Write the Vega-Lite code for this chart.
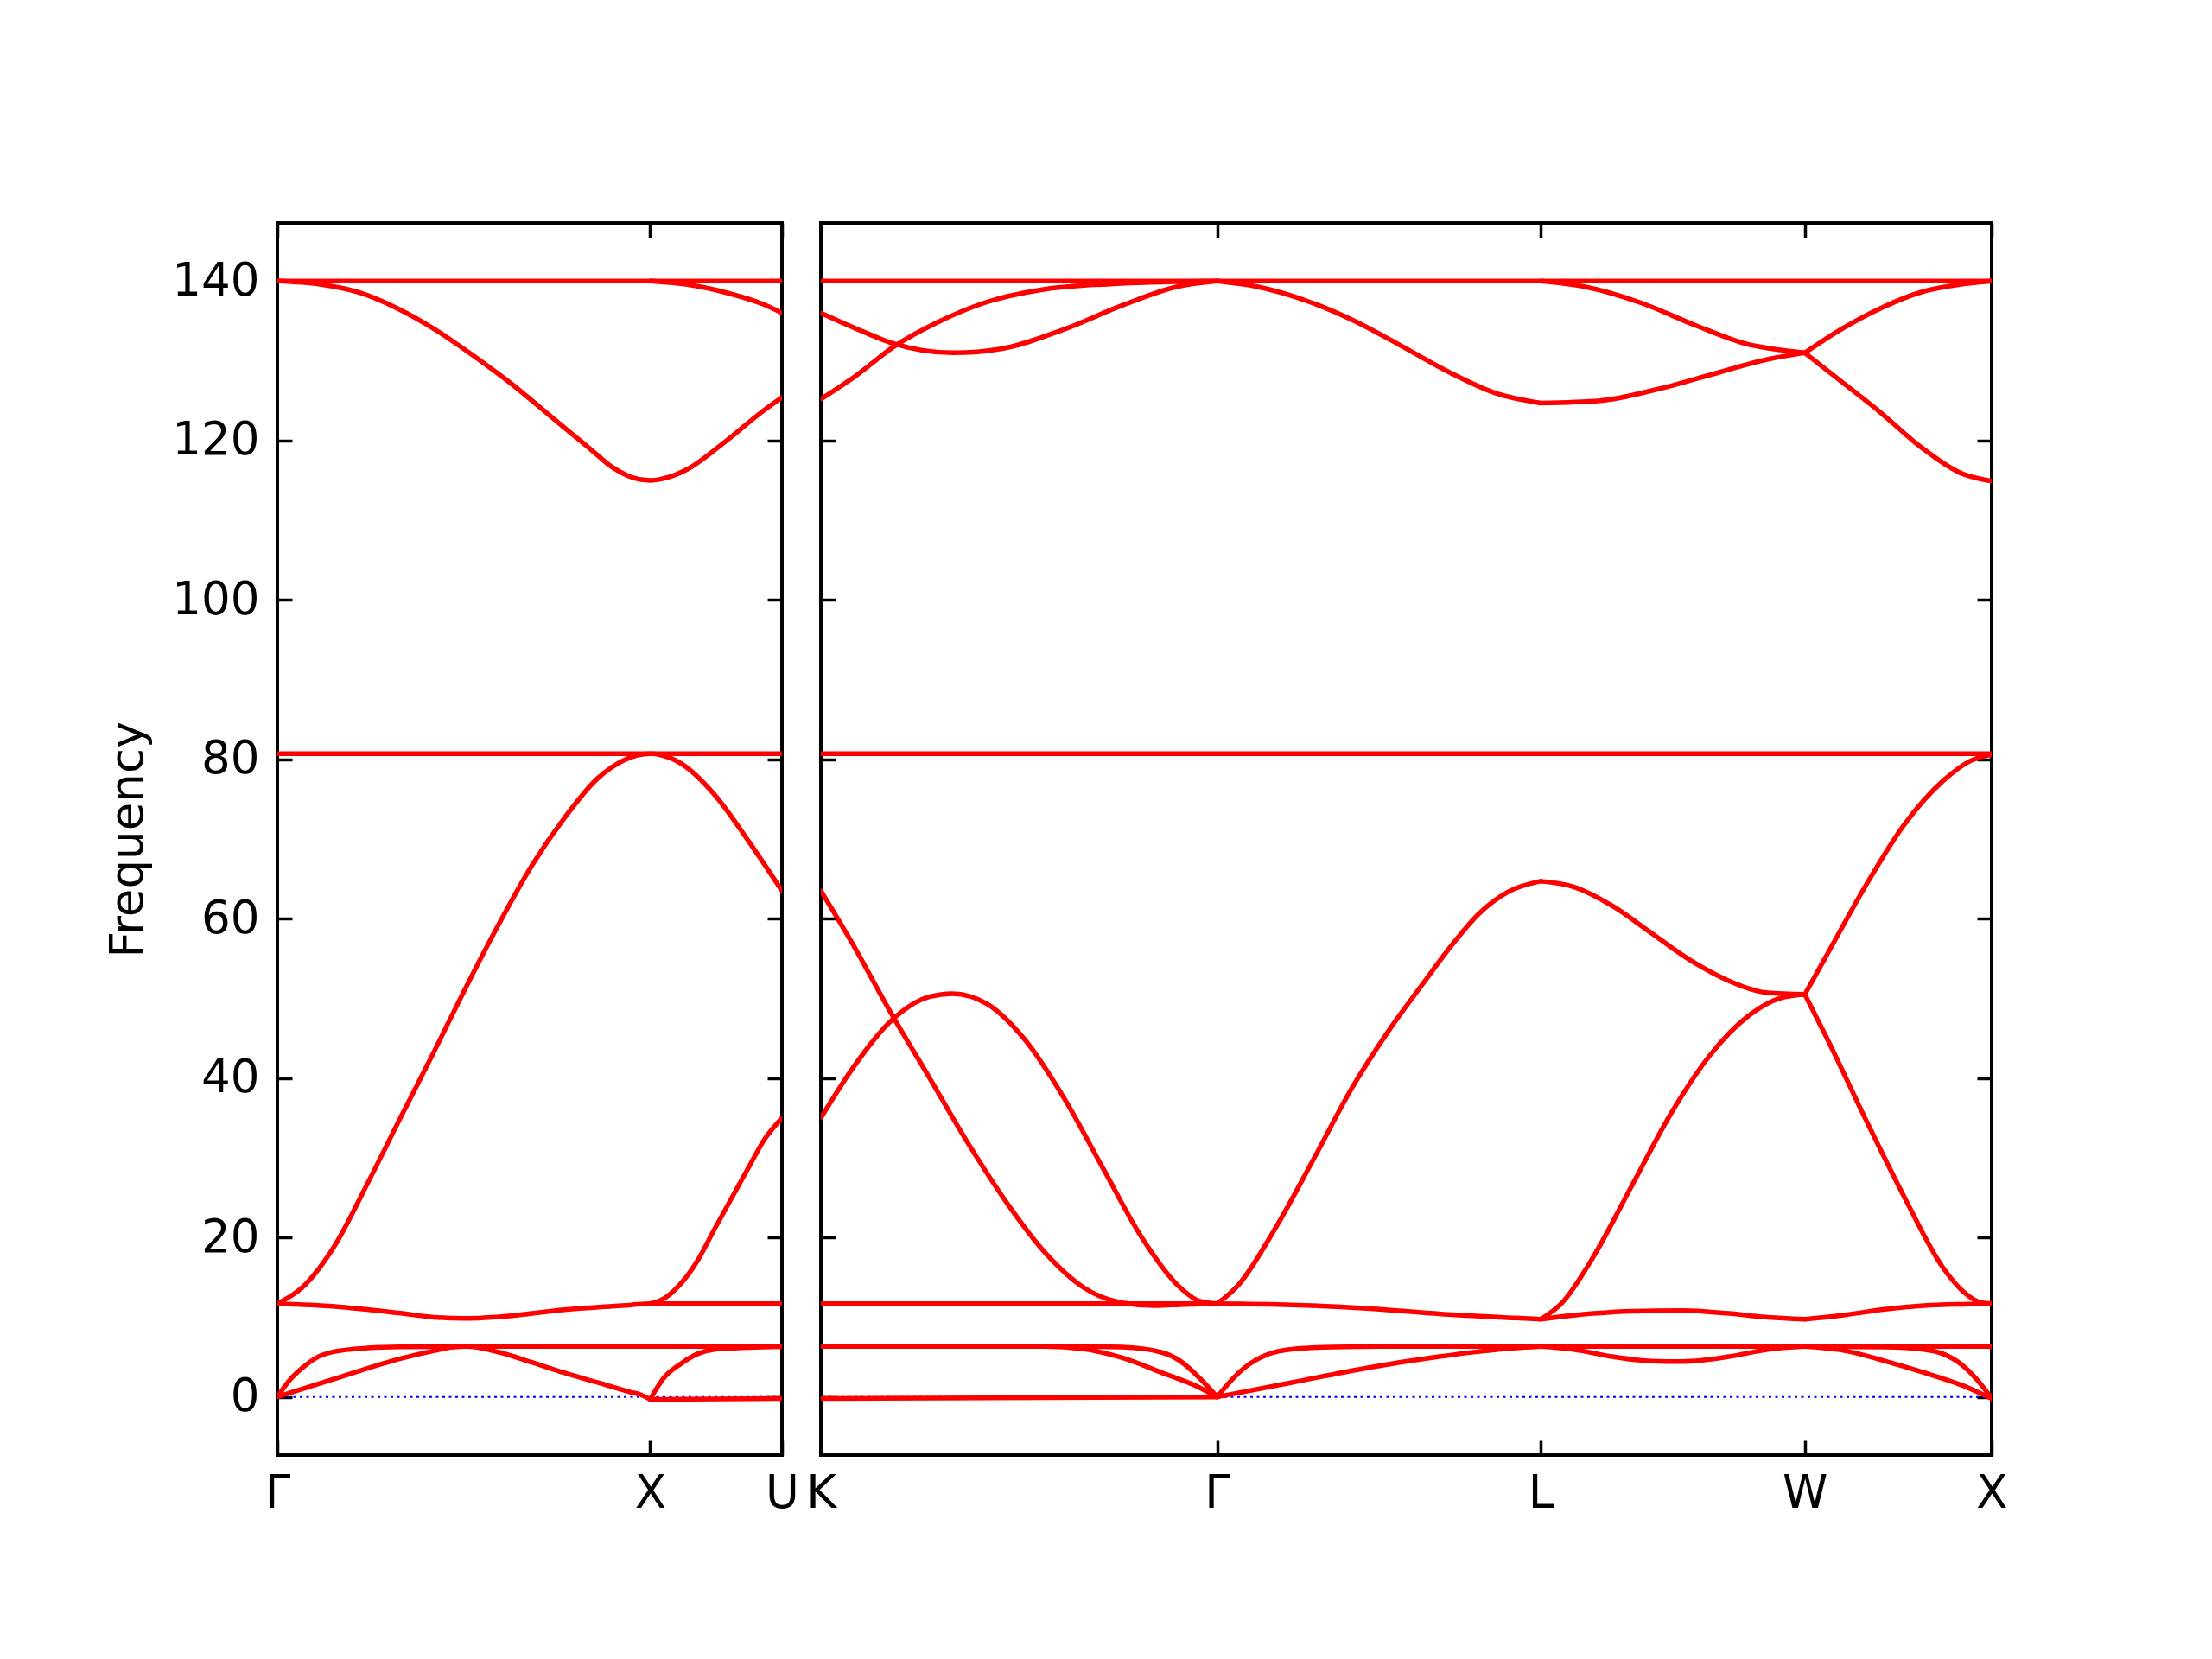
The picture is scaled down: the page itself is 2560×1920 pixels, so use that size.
{
  "$schema": "https://vega.github.io/schema/vega-lite/v6.json",
  "background": "white",
  "padding": {"left": 120, "top": 254, "right": 10, "bottom": 10},
  "spacing": 3,
  "config": {
    "view": {"stroke": "black", "strokeWidth": 4},
    "font": "DejaVu Sans",
    "axis": {
      "labelFont": "DejaVu Sans", "titleFont": "DejaVu Sans",
      "labelFontSize": 53, "titleFontSize": 53,
      "labelColor": "black", "titleColor": "black",
      "tickColor": "black", "tickWidth": 3.5, "tickSize": -17,
      "domain": false, "grid": false, "titleFontWeight": "normal",
      "labelFlush": false, "labelOverlap": false
    }
  },
  "datasets": {
    "left": [
      {"s":"L1","d":0,"f":140},{"s":"L1","d":1.3536,"f":140},
      {"s":"L2","d":0,"f":140},{"s":"L2","d":0.114,"f":139.6},{"s":"L2","d":0.217,"f":138.6},{"s":"L2","d":0.321,"f":136.6},{"s":"L2","d":0.424,"f":133.9},{"s":"L2","d":0.527,"f":130.6},{"s":"L2","d":0.631,"f":127.0},{"s":"L2","d":0.734,"f":123.0},{"s":"L2","d":0.838,"f":119.0},{"s":"L2","d":0.9,"f":116.6},{"s":"L2","d":0.95,"f":115.4},{"s":"L2","d":1,"f":115.0},{"s":"L2","d":1.05,"f":115.4},{"s":"L2","d":1.1,"f":116.4},{"s":"L2","d":1.2,"f":119.8},{"s":"L2","d":1.3,"f":123.6},{"s":"L2","d":1.3536,"f":125.4},
      {"s":"L3","d":1,"f":140},{"s":"L3","d":1.096,"f":139.6},{"s":"L3","d":1.2,"f":138.6},{"s":"L3","d":1.303,"f":137.1},{"s":"L3","d":1.3536,"f":136.0},
      {"s":"L4","d":0,"f":80.7},{"s":"L4","d":1.3536,"f":80.7},
      {"s":"L5","d":0,"f":11.7},{"s":"L5","d":0.066,"f":13.7},{"s":"L5","d":0.154,"f":19.0},{"s":"L5","d":0.242,"f":26.8},{"s":"L5","d":0.33,"f":35.0},{"s":"L5","d":0.419,"f":43.2},{"s":"L5","d":0.507,"f":51.5},{"s":"L5","d":0.595,"f":59.4},{"s":"L5","d":0.683,"f":66.7},{"s":"L5","d":0.771,"f":72.7},{"s":"L5","d":0.859,"f":77.6},{"s":"L5","d":0.93,"f":79.9},{"s":"L5","d":1,"f":80.7},{"s":"L5","d":1.082,"f":79.5},{"s":"L5","d":1.172,"f":75.6},{"s":"L5","d":1.263,"f":69.8},{"s":"L5","d":1.3536,"f":63.5},
      {"s":"L6","d":0,"f":11.7},{"s":"L6","d":0.154,"f":11.35},{"s":"L6","d":0.33,"f":10.5},{"s":"L6","d":0.42,"f":10.0},{"s":"L6","d":0.5,"f":9.85},{"s":"L6","d":0.595,"f":10.05},{"s":"L6","d":0.77,"f":10.95},{"s":"L6","d":0.95,"f":11.55},{"s":"L6","d":1,"f":11.7},{"s":"L6","d":1.3536,"f":11.7},
      {"s":"L7","d":1,"f":11.7},{"s":"L7","d":1.036,"f":12.3},{"s":"L7","d":1.082,"f":14.2},{"s":"L7","d":1.127,"f":17.1},{"s":"L7","d":1.172,"f":21.0},{"s":"L7","d":1.218,"f":24.9},{"s":"L7","d":1.263,"f":28.7},{"s":"L7","d":1.308,"f":32.4},{"s":"L7","d":1.3536,"f":35.0},
      {"s":"L8","d":0,"f":0},{"s":"L8","d":0.031,"f":2.0},{"s":"L8","d":0.066,"f":3.6},{"s":"L8","d":0.11,"f":5.05},{"s":"L8","d":0.154,"f":5.7},{"s":"L8","d":0.242,"f":6.14},{"s":"L8","d":0.33,"f":6.28},{"s":"L8","d":0.5,"f":6.32},{"s":"L8","d":1.3536,"f":6.32},
      {"s":"L9","d":0,"f":0},{"s":"L9","d":0.154,"f":2.27},{"s":"L9","d":0.33,"f":4.8},{"s":"L9","d":0.419,"f":5.78},{"s":"L9","d":0.471,"f":6.25},{"s":"L9","d":0.507,"f":6.32},{"s":"L9","d":0.595,"f":5.6},{"s":"L9","d":0.683,"f":4.33},{"s":"L9","d":0.771,"f":3.0},{"s":"L9","d":0.859,"f":1.81},{"s":"L9","d":0.947,"f":0.61},{"s":"L9","d":0.974,"f":0.29},{"s":"L9","d":1,"f":-0.3},
      {"s":"L10","d":1,"f":-0.3},{"s":"L10","d":1.3536,"f":-0.2},
      {"s":"L11","d":1,"f":-0.3},{"s":"L11","d":1.036,"f":2.35},{"s":"L11","d":1.082,"f":4.15},{"s":"L11","d":1.127,"f":5.4},{"s":"L11","d":1.172,"f":5.96},{"s":"L11","d":1.263,"f":6.2},{"s":"L11","d":1.3536,"f":6.3}
    ],
    "right": [
      {"s":"R1","d":0,"f":140},{"s":"R1","d":3.1338,"f":140},
      {"s":"R2","d":0,"f":80.7},{"s":"R2","d":3.1338,"f":80.7},
      {"s":"KGa","d":0,"f":136.0},{"s":"KGa","d":0.096,"f":134.0},{"s":"KGa","d":0.193,"f":132.2},{"s":"KGa","d":0.354,"f":131.0},{"s":"KGa","d":0.482,"f":131.5},{"s":"KGa","d":0.654,"f":134.0},{"s":"KGa","d":0.804,"f":136.9},{"s":"KGa","d":0.954,"f":139.3},{"s":"KGa","d":1.0607,"f":140},
      {"s":"KGb","d":0,"f":125.2},{"s":"KGb","d":0.096,"f":128.2},{"s":"KGb","d":0.193,"f":131.7},{"s":"KGb","d":0.311,"f":134.8},{"s":"KGb","d":0.439,"f":137.3},{"s":"KGb","d":0.589,"f":138.9},{"s":"KGb","d":0.804,"f":139.7},{"s":"KGb","d":1.0607,"f":140},
      {"s":"KGd","d":0,"f":63.5},{"s":"KGd","d":0.083,"f":57.0},{"s":"KGd","d":0.186,"f":48.3},{"s":"KGd","d":0.29,"f":40.1},{"s":"KGd","d":0.393,"f":31.9},{"s":"KGd","d":0.497,"f":24.4},{"s":"KGd","d":0.6,"f":18.1},{"s":"KGd","d":0.704,"f":13.7},{"s":"KGd","d":0.807,"f":11.8},{"s":"KGd","d":0.89,"f":11.45},{"s":"KGd","d":0.973,"f":11.6},{"s":"KGd","d":1.0607,"f":11.7},
      {"s":"KGe","d":0,"f":35.0},{"s":"KGe","d":0.083,"f":41.1},{"s":"KGe","d":0.186,"f":47.1},{"s":"KGe","d":0.29,"f":50.2},{"s":"KGe","d":0.352,"f":50.6},{"s":"KGe","d":0.445,"f":49.3},{"s":"KGe","d":0.548,"f":44.7},{"s":"KGe","d":0.652,"f":37.4},{"s":"KGe","d":0.755,"f":28.7},{"s":"KGe","d":0.859,"f":20.0},{"s":"KGe","d":0.962,"f":13.7},{"s":"KGe","d":1.014,"f":12.0},{"s":"KGe","d":1.0607,"f":11.7},
      {"s":"KGf","d":0,"f":11.7},{"s":"KGf","d":1.0607,"f":11.7},
      {"s":"KGg","d":0,"f":6.32},{"s":"KGg","d":0.7,"f":6.32},{"s":"KGg","d":0.807,"f":6.25},{"s":"KGg","d":0.911,"f":5.6},{"s":"KGg","d":0.962,"f":4.5},{"s":"KGg","d":1.014,"f":2.35},{"s":"KGg","d":1.0607,"f":0},
      {"s":"KGh","d":0,"f":6.32},{"s":"KGh","d":0.6,"f":6.32},{"s":"KGh","d":0.704,"f":6.0},{"s":"KGh","d":0.807,"f":4.9},{"s":"KGh","d":0.911,"f":3.07},{"s":"KGh","d":1.014,"f":1.16},{"s":"KGh","d":1.0607,"f":0},
      {"s":"KGi","d":0,"f":-0.2},{"s":"KGi","d":1.0607,"f":0},
      {"s":"GLa","d":1.0607,"f":140},{"s":"GLa","d":1.1677,"f":139.3},{"s":"GLa","d":1.2957,"f":137.6},{"s":"GLa","d":1.4237,"f":135.1},{"s":"GLa","d":1.5527,"f":131.9},{"s":"GLa","d":1.6807,"f":128.6},{"s":"GLa","d":1.8087,"f":125.9},{"s":"GLa","d":1.9267,"f":124.7},
      {"s":"GLc","d":1.0607,"f":11.7},{"s":"GLc","d":1.1167,"f":14.0},{"s":"GLc","d":1.2207,"f":21.5},{"s":"GLc","d":1.3207,"f":30.0},{"s":"GLc","d":1.4207,"f":38.7},{"s":"GLc","d":1.5207,"f":46.0},{"s":"GLc","d":1.6107,"f":51.8},{"s":"GLc","d":1.6907,"f":56.8},{"s":"GLc","d":1.7607,"f":60.6},{"s":"GLc","d":1.8407,"f":63.4},{"s":"GLc","d":1.9267,"f":64.7},
      {"s":"GLd","d":1.0607,"f":11.7},{"s":"GLd","d":1.2607,"f":11.55},{"s":"GLd","d":1.4607,"f":11.1},{"s":"GLd","d":1.6607,"f":10.4},{"s":"GLd","d":1.8607,"f":9.9},{"s":"GLd","d":1.9267,"f":9.75},
      {"s":"GLe","d":1.0607,"f":0},{"s":"GLe","d":1.0967,"f":1.99},{"s":"GLe","d":1.1377,"f":3.8},{"s":"GLe","d":1.1887,"f":5.2},{"s":"GLe","d":1.2707,"f":6.03},{"s":"GLe","d":1.3737,"f":6.25},{"s":"GLe","d":1.5,"f":6.32},{"s":"GLe","d":1.9267,"f":6.32},
      {"s":"GLf","d":1.0607,"f":0},{"s":"GLf","d":1.2607,"f":1.81},{"s":"GLf","d":1.4607,"f":3.63},{"s":"GLf","d":1.6547,"f":5.05},{"s":"GLf","d":1.7567,"f":5.67},{"s":"GLf","d":1.8597,"f":6.14},{"s":"GLf","d":1.9267,"f":6.32},
      {"s":"LWa","d":1.9267,"f":140},{"s":"LWa","d":2.0437,"f":139.3},{"s":"LWa","d":2.1937,"f":137.3},{"s":"LWa","d":2.3437,"f":134.4},{"s":"LWa","d":2.4717,"f":132.2},{"s":"LWa","d":2.6338,"f":131.0},
      {"s":"LWb","d":1.9267,"f":124.7},{"s":"LWb","d":2.0867,"f":125.0},{"s":"LWb","d":2.2367,"f":126.4},{"s":"LWb","d":2.4077,"f":128.6},{"s":"LWb","d":2.5357,"f":130.2},{"s":"LWb","d":2.6338,"f":131.0},
      {"s":"LWc","d":1.9267,"f":64.7},{"s":"LWc","d":2.0147,"f":64.0},{"s":"LWc","d":2.1187,"f":61.6},{"s":"LWc","d":2.2227,"f":58.2},{"s":"LWc","d":2.3267,"f":54.8},{"s":"LWc","d":2.4307,"f":52.2},{"s":"LWc","d":2.5347,"f":50.7},{"s":"LWc","d":2.6338,"f":50.5},
      {"s":"LWd","d":1.9267,"f":9.75},{"s":"LWd","d":1.9837,"f":11.8},{"s":"LWd","d":2.0667,"f":17.5},{"s":"LWd","d":2.1707,"f":26.5},{"s":"LWd","d":2.2747,"f":35.5},{"s":"LWd","d":2.3787,"f":42.8},{"s":"LWd","d":2.4827,"f":47.8},{"s":"LWd","d":2.5667,"f":50.0},{"s":"LWd","d":2.6338,"f":50.5},
      {"s":"LWe","d":1.9267,"f":9.75},{"s":"LWe","d":2.0667,"f":10.47},{"s":"LWe","d":2.1707,"f":10.76},{"s":"LWe","d":2.3067,"f":10.83},{"s":"LWe","d":2.4307,"f":10.47},{"s":"LWe","d":2.5347,"f":10.0},{"s":"LWe","d":2.6338,"f":9.75},
      {"s":"LWf","d":1.9267,"f":6.32},{"s":"LWf","d":3.1338,"f":6.32},
      {"s":"LWg","d":1.9267,"f":6.32},{"s":"LWg","d":2.0147,"f":5.96},{"s":"LWg","d":2.1187,"f":5.05},{"s":"LWg","d":2.2227,"f":4.5},{"s":"LWg","d":2.3067,"f":4.44},{"s":"LWg","d":2.4307,"f":5.05},{"s":"LWg","d":2.5347,"f":5.96},{"s":"LWg","d":2.6338,"f":6.32},
      {"s":"WXa","d":2.6338,"f":131.0},{"s":"WXa","d":2.7288,"f":133.9},{"s":"WXa","d":2.8368,"f":136.6},{"s":"WXa","d":2.9438,"f":138.6},{"s":"WXa","d":3.0518,"f":139.6},{"s":"WXa","d":3.1338,"f":140},
      {"s":"WXb","d":2.6338,"f":131.0},{"s":"WXb","d":2.7288,"f":127.5},{"s":"WXb","d":2.8368,"f":123.5},{"s":"WXb","d":2.9438,"f":119.2},{"s":"WXb","d":3.0518,"f":115.9},{"s":"WXb","d":3.1338,"f":114.9},
      {"s":"WXc","d":2.6338,"f":50.5},{"s":"WXc","d":2.6908,"f":55.3},{"s":"WXc","d":2.7948,"f":64.0},{"s":"WXc","d":2.8998,"f":71.8},{"s":"WXc","d":3.0038,"f":77.3},{"s":"WXc","d":3.0768,"f":79.8},{"s":"WXc","d":3.1338,"f":80.6},
      {"s":"WXd","d":2.6338,"f":50.5},{"s":"WXd","d":2.6908,"f":45.2},{"s":"WXd","d":2.7948,"f":35.0},{"s":"WXd","d":2.8998,"f":25.1},{"s":"WXd","d":3.0038,"f":16.2},{"s":"WXd","d":3.0558,"f":13.3},{"s":"WXd","d":3.1078,"f":11.8},{"s":"WXd","d":3.1338,"f":11.7},
      {"s":"WXe","d":2.6338,"f":9.75},{"s":"WXe","d":2.7428,"f":10.3},{"s":"WXe","d":2.8478,"f":11.0},{"s":"WXe","d":2.9518,"f":11.45},{"s":"WXe","d":3.0558,"f":11.63},{"s":"WXe","d":3.1338,"f":11.7},
      {"s":"WXg","d":2.6338,"f":6.32},{"s":"WXg","d":2.8478,"f":6.25},{"s":"WXg","d":2.9518,"f":5.96},{"s":"WXg","d":3.0038,"f":5.4},{"s":"WXg","d":3.0558,"f":3.97},{"s":"WXg","d":3.0978,"f":1.99},{"s":"WXg","d":3.1338,"f":-0.2},
      {"s":"WXh","d":2.6338,"f":6.32},{"s":"WXh","d":2.7428,"f":5.78},{"s":"WXh","d":2.8478,"f":4.51},{"s":"WXh","d":2.9518,"f":3.07},{"s":"WXh","d":3.0558,"f":1.44},{"s":"WXh","d":3.1338,"f":-0.2}
    ],
    "zero": [{"f": 0}]
  },
  "hconcat": [
    {
      "width": 584,
      "height": 1426,
      "layer": [
        {
          "data": {"name": "zero"},
          "mark": {"type": "rule", "color": "#0000ff", "strokeWidth": 2, "strokeDash": [3, 4.5]},
          "encoding": {
            "y": {"field": "f", "type": "quantitative", "scale": {"domain": [-7.3, 147.3], "nice": false, "zero": false}, "axis": null}
          }
        },
        {
          "data": {"name": "left"},
          "mark": {"type": "line", "color": "#ff0000", "strokeWidth": 5.5, "strokeCap": "round", "strokeJoin": "round", "interpolate": "monotone", "clip": true},
          "encoding": {
            "x": {"field": "d", "type": "quantitative", "scale": {"domain": [0, 1.3536], "nice": false, "zero": false},
              "axis": {"orient": "bottom", "title": null, "values": [0, 1, 1.3536], "labelPadding": 35,
                "labelExpr": "datum.value < 0.5 ? 'Γ' : (datum.value < 1.2 ? 'X' : 'U')"}},
            "y": {"field": "f", "type": "quantitative", "scale": {"domain": [-7.3, 147.3], "nice": false, "zero": false},
              "axis": {"orient": "left", "title": "Frequency", "values": [0, 20, 40, 60, 80, 100, 120, 140], "format": "d", "labelPadding": 38, "titlePadding": 23}},
            "detail": {"field": "s"}
          }
        },
        {
          "data": {"name": "left"},
          "mark": {"type": "line", "strokeOpacity": 0},
          "encoding": {
            "x": {"field": "d", "type": "quantitative", "scale": {"domain": [0, 1.3536], "nice": false, "zero": false},
              "axis": {"orient": "top", "title": null, "values": [0, 1, 1.3536], "labels": false}},
            "y": {"field": "f", "type": "quantitative", "scale": {"domain": [-7.3, 147.3], "nice": false, "zero": false},
              "axis": {"orient": "right", "title": null, "values": [0, 20, 40, 60, 80, 100, 120, 140], "labels": false}},
            "detail": {"field": "s"}
          }
        }
      ],
      "resolve": {"axis": {"x": "independent", "y": "independent"}}
    },
    {
      "width": 1355,
      "height": 1426,
      "layer": [
        {
          "data": {"name": "zero"},
          "mark": {"type": "rule", "color": "#0000ff", "strokeWidth": 2, "strokeDash": [3, 4.5]},
          "encoding": {
            "y": {"field": "f", "type": "quantitative", "scale": {"domain": [-7.3, 147.3], "nice": false, "zero": false}, "axis": null}
          }
        },
        {
          "data": {"name": "right"},
          "mark": {"type": "line", "color": "#ff0000", "strokeWidth": 5.5, "strokeCap": "round", "strokeJoin": "round", "interpolate": "monotone", "clip": true},
          "encoding": {
            "x": {"field": "d", "type": "quantitative", "scale": {"domain": [0, 3.1338], "nice": false, "zero": false},
              "axis": {"orient": "bottom", "title": null, "values": [0, 1.0607, 1.9267, 2.6338, 3.1338], "labelPadding": 35,
                "labelExpr": "datum.value < 0.5 ? 'K' : (datum.value < 1.5 ? 'Γ' : (datum.value < 2.3 ? 'L' : (datum.value < 2.9 ? 'W' : 'X')))"}},
            "y": {"field": "f", "type": "quantitative", "scale": {"domain": [-7.3, 147.3], "nice": false, "zero": false},
              "axis": {"orient": "left", "title": null, "values": [0, 20, 40, 60, 80, 100, 120, 140], "labels": false}},
            "detail": {"field": "s"}
          }
        },
        {
          "data": {"name": "right"},
          "mark": {"type": "line", "strokeOpacity": 0},
          "encoding": {
            "x": {"field": "d", "type": "quantitative", "scale": {"domain": [0, 3.1338], "nice": false, "zero": false},
              "axis": {"orient": "top", "title": null, "values": [0, 1.0607, 1.9267, 2.6338, 3.1338], "labels": false}},
            "y": {"field": "f", "type": "quantitative", "scale": {"domain": [-7.3, 147.3], "nice": false, "zero": false},
              "axis": {"orient": "right", "title": null, "values": [0, 20, 40, 60, 80, 100, 120, 140], "labels": false}},
            "detail": {"field": "s"}
          }
        }
      ],
      "resolve": {"axis": {"x": "independent", "y": "independent"}}
    }
  ]
}
